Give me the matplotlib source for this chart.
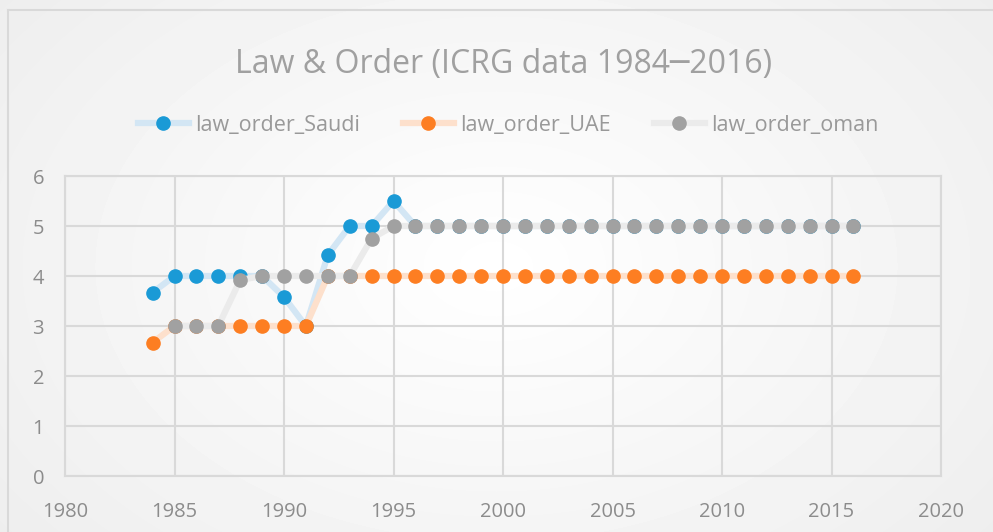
import numpy as np
import matplotlib
matplotlib.use("Agg")
import matplotlib.pyplot as plt

years = list(range(1984, 2017))
saudi = [3.67, 4, 4, 4, 4, 4, 3.58, 3, 4.42, 5, 5, 5.5] + [5] * 21
uae = [2.67, 3, 3, 3, 3, 3, 3, 3, 4, 4, 4, 4] + [4] * 21
oman_years = list(range(1985, 2017))
oman = [3, 3, 3, 3.92, 4, 4, 4, 4, 4, 4.75, 5] + [5] * 21

title = "Law & Order (ICRG data 1984\u25002016)"
x_ticks = [1980, 1985, 1990, 1995, 2000, 2005, 2010, 2015, 2020]
y_ticks = [0, 1, 2, 3, 4, 5, 6]

plt.rcParams['font.family'] = ['Open Sans', 'DejaVu Sans']

fig = plt.figure(figsize=(9.93, 5.32), dpi=100)

# background gradient
bg = fig.add_axes([0, 0, 1, 1], zorder=-10)
yy, xx = np.mgrid[0:532, 0:993]
r = np.sqrt(((xx - 496) / 700) ** 2 + ((yy - 266) / 480) ** 2)
val = 1.0 - 0.075 * np.clip(r, 0, 1)
bg.imshow(val, cmap='gray', vmin=0, vmax=1, aspect='auto', extent=[0, 993, 532, 0])
bg.plot([8, 993], [10, 10], color='#d9d9d9', lw=1.5)
bg.plot([8, 8], [10, 532], color='#d9d9d9', lw=1.5)
bg.set_xlim(0, 993)
bg.set_ylim(532, 0)
bg.axis('off')

ax = fig.add_axes([65 / 993, 1 - 476 / 532, (941 - 65) / 993, 300 / 532])
ax.patch.set_alpha(0)

ax.plot(years, saudi, color='#d3e6f4', lw=4.5, marker='o', markersize=9.5,
        markerfacecolor='#1a9ad6', markeredgecolor='#1a9ad6', label='law_order_Saudi', zorder=3)
ax.plot(years, uae, color='#fde0cc', lw=4.5, marker='o', markersize=9.5,
        markerfacecolor='#fd7e22', markeredgecolor='#fd7e22', label='law_order_UAE', zorder=4)
ax.plot(oman_years, oman, color='#ebebeb', lw=4.5, marker='o', markersize=9.5,
        markerfacecolor='#a1a1a1', markeredgecolor='#a1a1a1', label='law_order_oman', zorder=5)

ax.set_xlim(1980, 2020)
ax.set_ylim(0, 6)
ax.set_xticks(x_ticks)
ax.set_yticks(y_ticks)
ax.grid(True, color='#d9d9d9', lw=1.5, zorder=0)
ax.set_axisbelow(True)
for s in ax.spines.values():
    s.set_color('#d9d9d9')
    s.set_linewidth(1.5)
ax.tick_params(length=0, labelsize=14.5, labelcolor='#8c8c8c')
ax.tick_params(axis='x', pad=19)
ax.tick_params(axis='y', pad=15)

fig.text(0.5 * (237 + 770) / 993, 1 - 64 / 532, title, ha='center', va='center',
         fontsize=23, color='#a0a0a0')

fig.legend(loc='center', bbox_to_anchor=(508 / 993, 1 - 125 / 532), ncol=3, frameon=False,
           fontsize=15.5, labelcolor='#999999', handlelength=2.37, columnspacing=2.0,
           handletextpad=0.28)

fig.savefig('out.png', dpi=100)
